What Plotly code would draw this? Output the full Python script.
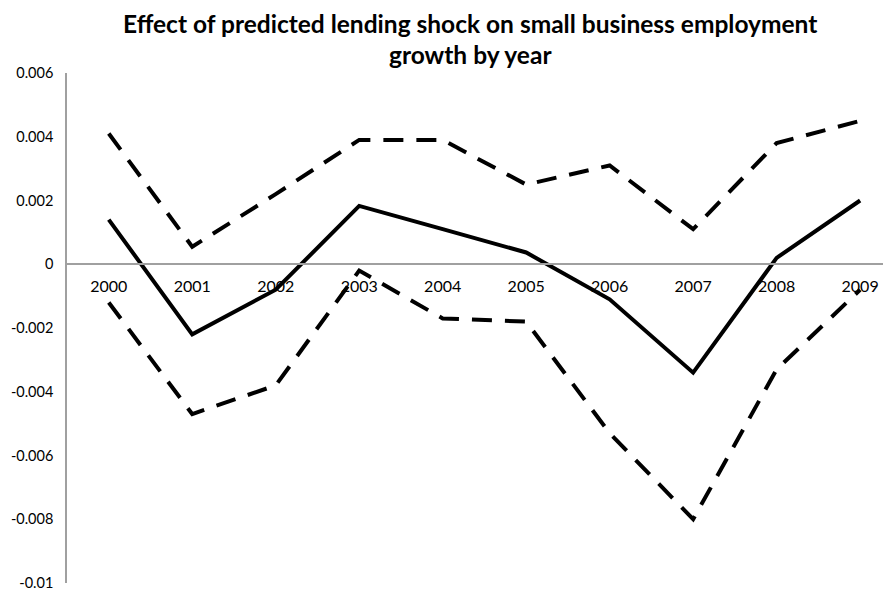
import plotly.graph_objects as go

years = ["2000", "2001", "2002", "2003", "2004", "2005", "2006", "2007", "2008", "2009"]
estimate = [0.0014, -0.0022, -0.0008, 0.00183, 0.0011, 0.00037, -0.0011, -0.0034, 0.0002, 0.002]
upper = [0.0041, 0.00055, 0.0022, 0.0039, 0.0039, 0.0025, 0.0031, 0.0011, 0.0038, 0.0045]
lower = [-0.0012, -0.0047, -0.0038, -0.0002, -0.0017, -0.0018, -0.0053, -0.008, -0.0033, -0.0008]
ytick_vals = [0.006, 0.004, 0.002, 0, -0.002, -0.004, -0.006, -0.008, -0.01]
ytick_text = ["0.006", "0.004", "0.002", "0", "-0.002", "-0.004", "-0.006", "-0.008", "-0.01"]
title_lines = ["Effect of predicted lending shock on small business employment", "growth by year"]

FONT = "Lato"
OFF = 8  # default page body margin
W, H = 891 - OFF, 592 - OFF
L, T, B_EDGE = 67 - OFF, 73 - OFF, 583 - OFF
H_PLOT = B_EDGE - T

fig = go.Figure()
for vals, dash in [(upper, "20px,13px"), (lower, "20px,13px"), (estimate, "solid")]:
    fig.add_trace(go.Scatter(x=years, y=vals, mode="lines",
                             line=dict(color="black", width=4, dash=dash),
                             showlegend=False, hoverinfo="skip"))

for i, line in enumerate(title_lines):
    fig.add_annotation(text="<b>" + line + "</b>", xref="paper", yref="paper",
                       x=(470 - OFF - L) / (W - L), y=1 + (T - (24 - OFF + 31 * i)) / H_PLOT,
                       xanchor="center", yanchor="middle", showarrow=False,
                       font=dict(family=FONT, size=24.5, color="black"))

fig.update_layout(
    width=W, height=H,
    margin=dict(l=L, r=0, t=T, b=H - B_EDGE),
    paper_bgcolor="white", plot_bgcolor="white",
    xaxis=dict(type="category", range=[-0.5, 9.37], anchor="free", automargin=False,
               position=(583 - 263.5) / H_PLOT, showline=True, linecolor="#a0a0a0",
               linewidth=1.5, showgrid=False, ticks="", ticklabelstandoff=9,
               tickfont=dict(family=FONT, size=16, color="black"), zeroline=False),
    yaxis=dict(range=[-0.01, 0.006], tickvals=ytick_vals, ticktext=ytick_text,
               automargin=False, showline=True, linecolor="#a0a0a0", linewidth=1.5,
               showgrid=False, zeroline=False, ticks="", ticklabelstandoff=9,
               tickfont=dict(family=FONT, size=14.5, color="black")),
)
fig.write_html("out.html")
